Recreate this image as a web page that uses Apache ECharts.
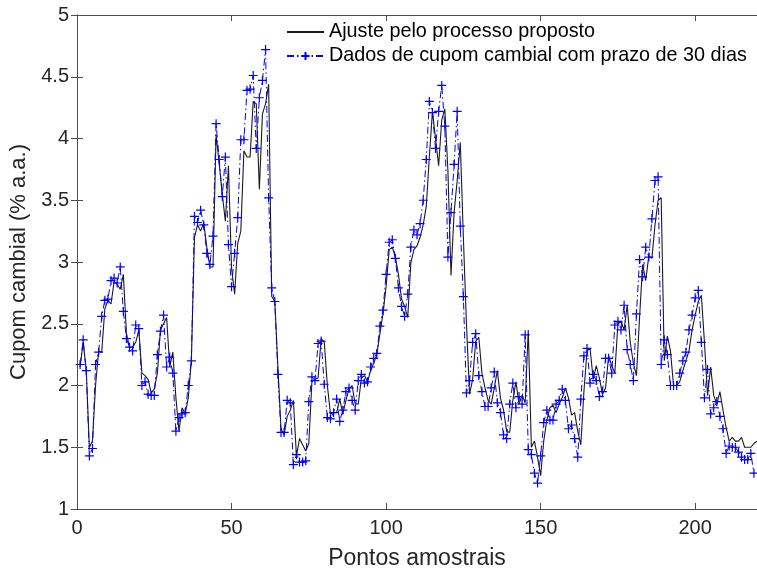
<!DOCTYPE html>
<html><head><meta charset="utf-8">
<script src="https://cdn.jsdelivr.net/npm/echarts@6/dist/echarts.min.js"></script>
<style>html,body{margin:0;padding:0;background:#fff}#c{width:757px;height:575px}</style>
</head><body><div id="c"></div>
<script>
const seriesNames = ['Ajuste pelo processo proposto', 'Dados de cupom cambial com prazo de 30 dias'];
const xTicks = [0, 50, 100, 150, 200];
const yTicks = [1, 1.5, 2, 2.5, 3, 3.5, 4, 4.5, 5];
const dados = [
2.17,2.37,2.12,1.43,1.49,2.17,2.27,2.56,2.69,2.70,
2.85,2.87,2.83,2.96,2.60,2.38,2.31,2.28,2.49,2.46,
2.00,2.03,1.93,1.92,1.92,2.25,2.44,2.57,2.15,2.23,
2.10,1.63,1.74,1.77,1.78,2.00,2.20,3.37,3.32,3.42,
3.30,3.07,2.98,3.21,4.12,3.83,3.53,3.85,3.14,2.80,
3.07,3.36,3.99,3.99,4.39,4.40,4.51,3.92,4.33,4.47,
4.72,3.52,2.79,2.68,2.09,1.62,1.62,1.88,1.86,1.36,
1.44,1.38,1.38,1.39,1.87,2.07,2.04,2.34,2.36,2.01,
1.74,1.73,1.78,1.89,1.71,1.80,1.95,1.98,1.88,1.80,
2.04,2.09,2.02,2.03,2.15,2.22,2.26,2.48,2.61,2.90,
3.16,3.18,3.03,2.79,2.64,2.56,2.74,3.12,3.26,3.22,
3.31,3.50,3.83,4.30,4.21,3.92,4.22,4.43,4.10,3.04,
3.40,3.79,4.22,3.29,2.72,1.94,2.04,2.35,2.42,2.08,
1.95,1.83,1.83,1.98,2.11,1.86,1.78,1.60,1.57,1.85,
2.02,1.82,1.91,1.85,2.41,1.48,1.44,1.29,1.21,1.43,
1.70,1.80,1.72,1.72,1.85,1.88,1.97,1.88,1.65,1.68,
1.57,1.42,1.89,2.24,2.30,2.02,2.09,2.04,1.91,1.95,
2.22,2.22,2.10,2.49,2.52,2.45,2.65,2.29,2.17,2.04,
2.58,3.02,2.88,3.12,3.04,3.35,3.66,3.69,2.17,2.37,
2.25,2.00,2.00,2.00,2.10,2.20,2.27,2.45,2.57,2.71,
2.77,2.35,1.90,2.13,1.77,1.82,1.87,1.75,1.65,1.45,
1.51,1.50,1.50,1.46,1.42,1.40,1.40,1.45,1.29
];
const ajuste = [
2.15,2.35,2.12,1.50,1.55,2.00,2.28,2.27,2.62,2.69,
2.66,2.84,2.82,2.78,2.90,2.42,2.31,2.31,2.35,2.45,
2.10,2.08,2.05,1.94,1.97,2.10,2.45,2.50,2.55,2.15,
2.27,1.90,1.63,1.82,1.77,1.90,2.20,3.20,3.30,3.25,
3.32,3.12,2.96,2.96,4.03,3.80,3.55,3.33,3.78,2.95,
2.74,3.15,3.25,3.90,3.85,3.85,4.30,4.28,3.59,4.20,
4.28,4.44,2.72,2.68,2.15,1.65,1.60,1.75,1.80,1.88,
1.43,1.57,1.52,1.47,1.53,2.03,2.05,2.06,2.38,2.35,
2.00,1.77,1.78,1.78,1.89,1.77,1.88,1.97,2.00,1.85,
1.85,2.06,2.08,2.03,2.12,2.18,2.25,2.42,2.58,2.80,
3.10,3.12,3.04,2.90,2.70,2.64,2.55,2.99,3.10,3.13,
3.20,3.30,3.45,3.85,4.22,4.00,3.78,4.15,4.24,3.74,
2.89,3.40,3.66,3.97,3.20,2.50,1.93,2.05,2.36,2.39,
2.10,1.98,1.88,1.85,1.98,2.12,1.90,1.80,1.63,1.62,
1.88,2.03,1.85,1.92,1.86,2.45,1.50,1.55,1.42,1.27,
1.55,1.72,1.82,1.84,1.78,1.85,1.90,1.98,1.90,1.76,
1.78,1.63,1.52,1.95,2.28,2.30,2.05,2.16,2.06,1.93,
1.98,2.24,2.16,2.10,2.50,2.52,2.45,2.65,2.35,2.18,
2.08,2.55,2.98,2.85,3.05,3.03,3.30,3.50,3.52,2.20,
2.40,2.28,2.00,2.00,2.03,2.12,2.20,2.28,2.45,2.57,
2.68,2.73,2.35,1.92,2.15,1.92,1.85,1.95,1.80,1.66,
1.55,1.58,1.55,1.55,1.58,1.50,1.50,1.50,1.53,1.55
];

const toPairs = arr => arr.map((v, i) => [i + 1, v]);
const font = "'Liberation Sans', Arial, Helvetica, sans-serif";
const axisColor = '#4d4d4d';
const textColor = '#262626';
const plus = 'path://M0,5L10,5M5,0L5,10';

const chart = echarts.init(document.getElementById('c'), null, {renderer: 'canvas'});
const xCommon = {
  type: 'value', min: xTicks[0], max: 220, interval: xTicks[1] - xTicks[0],
  axisLine: {show: true, lineStyle: {color: axisColor, width: 1}},
  axisTick: {show: true, inside: true, length: 6, lineStyle: {color: axisColor}},
  splitLine: {show: false}
};
const yCommon = {
  type: 'value', min: yTicks[0], max: yTicks[yTicks.length - 1], interval: yTicks[1] - yTicks[0],
  axisLine: {show: true, lineStyle: {color: axisColor, width: 1}},
  axisTick: {show: true, inside: true, length: 6, lineStyle: {color: axisColor}},
  splitLine: {show: false}
};
chart.setOption({
  animation: false,
  backgroundColor: '#fff',
  textStyle: {fontFamily: font},
  grid: {left: 77, right: 0, top: 15, bottom: 66, containLabel: false, outerBoundsMode: 'none'},
  legend: {
    orient: 'vertical', left: 281, top: 17, itemWidth: 37, itemHeight: 10, itemGap: 4,
    textStyle: {fontSize: 19.8, color: '#000', fontFamily: font},
    data: [
      {name: seriesNames[0], itemStyle: {color: 'rgba(0,0,0,0)', borderColor: 'rgba(0,0,0,0)', borderWidth: 0}},
      {name: seriesNames[1]}
    ]
  },
  xAxis: [
    Object.assign({}, xCommon, {
      position: 'bottom',
      name: 'Pontos amostrais', nameLocation: 'middle', nameGap: 38,
      nameTextStyle: {fontSize: 23, color: textColor, fontFamily: font},
      axisLabel: {show: true, fontSize: 20, color: textColor, margin: 9, fontFamily: font,
        formatter: v => (xTicks.indexOf(v) >= 0 ? String(v) : '')}
    }),
    Object.assign({}, xCommon, {position: 'top', axisLabel: {show: false}})
  ],
  yAxis: [
    Object.assign({}, yCommon, {
      position: 'left',
      name: 'Cupom cambial (% a.a.)', nameLocation: 'middle', nameGap: 46,
      nameTextStyle: {fontSize: 22, color: textColor, fontFamily: font},
      axisLabel: {show: true, fontSize: 20, color: textColor, margin: 8, fontFamily: font}
    }),
    Object.assign({}, yCommon, {position: 'right', axisLabel: {show: false}})
  ],
  series: [
    {
      name: seriesNames[0], type: 'line', data: toPairs(ajuste),
      showSymbol: false, symbol: 'none',
      lineStyle: {color: '#1a1a1a', width: 1.1},
      itemStyle: {color: '#1a1a1a'}
    },
    {
      name: seriesNames[1], type: 'line', data: toPairs(dados),
      symbol: plus, symbolSize: 9, showAllSymbol: true,
      lineStyle: {color: '#0000ff', width: 1, type: [7, 3, 1.5, 3]},
      itemStyle: {color: '#0000ff', borderColor: '#0000ff', borderWidth: 1.2}
    }
  ]
});
</script></body></html>
